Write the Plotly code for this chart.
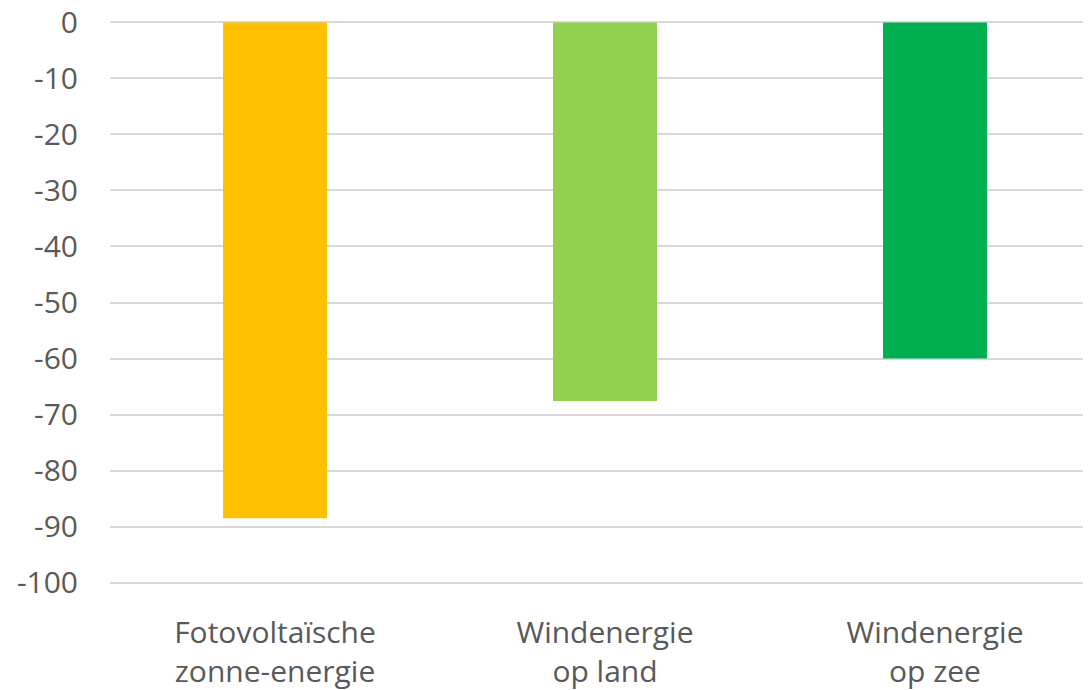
import plotly.graph_objects as go

categories = ["Fotovoltaïsche<br>zonne-energie", "Windenergie<br>op land", "Windenergie<br>op zee"]
values = [-88.5, -67.6, -60.0]
colors = ["#FFC000", "#92D050", "#00B050"]
y_ticks = [0, -10, -20, -30, -40, -50, -60, -70, -80, -90, -100]

fig = go.Figure()
fig.add_trace(go.Bar(
    x=categories,
    y=values,
    marker=dict(color=colors, line=dict(width=0)),
    width=0.315,
))

# the page body adds an 8px offset, so margins are trimmed by that amount
fig.update_layout(
    width=1091,
    height=690,
    margin=dict(l=102, r=0, t=13, b=114, autoexpand=False),
    paper_bgcolor="white",
    plot_bgcolor="white",
    showlegend=False,
    font=dict(family="Open Sans, Noto Sans, sans-serif", size=30, color="#595959"),
)
fig.update_xaxes(
    range=[-0.5, 2.497],
    showgrid=False,
    zeroline=False,
    showline=False,
    ticks="",
    ticklabelstandoff=28,
    automargin=False,
)
# small padding on the range so the gridlines at 0 and -100 are drawn
fig.update_yaxes(
    range=[-100.25, 0.25],
    tickvals=y_ticks,
    ticktext=[str(v) for v in y_ticks],
    showgrid=True,
    gridcolor="#d9d9d9",
    gridwidth=1.5,
    zeroline=False,
    showline=False,
    ticks="",
    ticklabelstandoff=31,
    ticklabeloverflow="allow",
    automargin=False,
)

fig.write_html("out.html")
